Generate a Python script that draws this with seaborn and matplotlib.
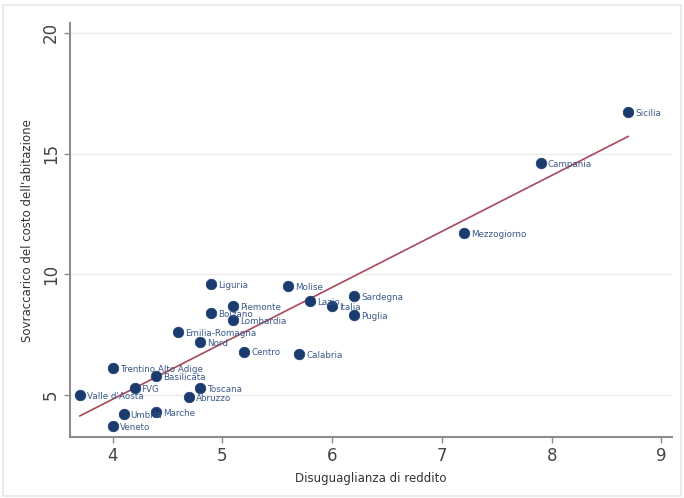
import numpy as np
import pandas as pd
import matplotlib
matplotlib.use("Agg")
import matplotlib.pyplot as plt
import seaborn as sns

# Regions: income inequality (x) vs housing cost overburden (y)
regions = ["Sicilia", "Campania", "Mezzogiorno", "Liguria", "Molise", "Lazio",
           "Italia", "Sardegna", "Puglia", "Piemonte", "Bolzano", "Lombardia",
           "Emilia-Romagna", "Nord", "Centro", "Calabria", "Trentino Alto Adige",
           "Basilicata", "FVG", "Toscana", "Abruzzo", "Valle d'Aosta", "Umbria",
           "Marche", "Veneto"]
disuguaglianza = [8.7, 7.9, 7.2, 4.9, 5.6, 5.8, 6.0, 6.2, 6.2, 5.1, 4.9, 5.1,
                  4.6, 4.8, 5.2, 5.7, 4.0, 4.4, 4.2, 4.8, 4.7, 3.7, 4.1, 4.4, 4.0]
sovraccarico = [16.7, 14.6, 11.7, 9.6, 9.5, 8.9, 8.7, 9.1, 8.3, 8.7, 8.4, 8.1,
                7.6, 7.2, 6.8, 6.7, 6.1, 5.8, 5.3, 5.3, 4.9, 5.0, 4.2, 4.3, 3.7]
x_ticks = [4, 5, 6, 7, 8, 9]
y_ticks = [5, 10, 15, 20]

df = pd.DataFrame({"regione": regions, "x": disuguaglianza, "y": sovraccarico})

sns.set_theme(style="white")
NAVY = "#1a3b6e"
GRID = "#ececec"
SPINE = "#8c8c8c"

fig = plt.figure(figsize=(6.84, 4.98), dpi=100)
fig.patch.set_facecolor("white")
ax = fig.add_axes([0.102, 0.1225, 0.881, 0.831])

for t in y_ticks:
    ax.axhline(t, color=GRID, lw=1.0, zorder=0)

sns.regplot(data=df, x="x", y="y", ci=None, scatter=False, ax=ax,
            line_kws={"color": "#a8485a", "lw": 1.2, "zorder": 2})
sns.scatterplot(data=df, x="x", y="y", ax=ax, color=NAVY, s=58,
                edgecolor=NAVY, linewidth=0.5, zorder=3, legend=False)

for _, r in df.iterrows():
    ax.annotate(r["regione"], (r["x"], r["y"]), xytext=(5, -1),
                textcoords="offset points", fontsize=6.3, color="#3b5a8a",
                va="center", ha="left", zorder=4)

ax.set_xlim(3.61, 9.10)
ax.set_ylim(3.26, 20.4)
ax.set_xticks(x_ticks)
ax.set_yticks(y_ticks)
ax.set_xticklabels([str(v) for v in x_ticks], fontsize=12, color="#444444")
ax.set_yticklabels([str(v) for v in y_ticks], fontsize=12, color="#444444",
                   rotation=90, va="center")
ax.tick_params(axis="both", direction="out", length=4, width=1, color=SPINE,
               bottom=True, left=True, pad=3)
ax.set_xlabel("Disuguaglianza di reddito", fontsize=8.5, color="#333333", labelpad=5)
ax.set_ylabel("Sovraccarico del costo dell'abitazione", fontsize=8.5,
              color="#333333", labelpad=6)

for side in ["top", "right"]:
    ax.spines[side].set_visible(False)
for side in ["left", "bottom"]:
    ax.spines[side].set_color(SPINE)
    ax.spines[side].set_linewidth(1.5)

# light frame around the figure
fig.add_artist(plt.Rectangle((0.005, 0.005), 0.99, 0.985, transform=fig.transFigure,
                             fill=False, edgecolor="#e6e6e6", lw=1.2))

fig.savefig("out.png", dpi=100)
